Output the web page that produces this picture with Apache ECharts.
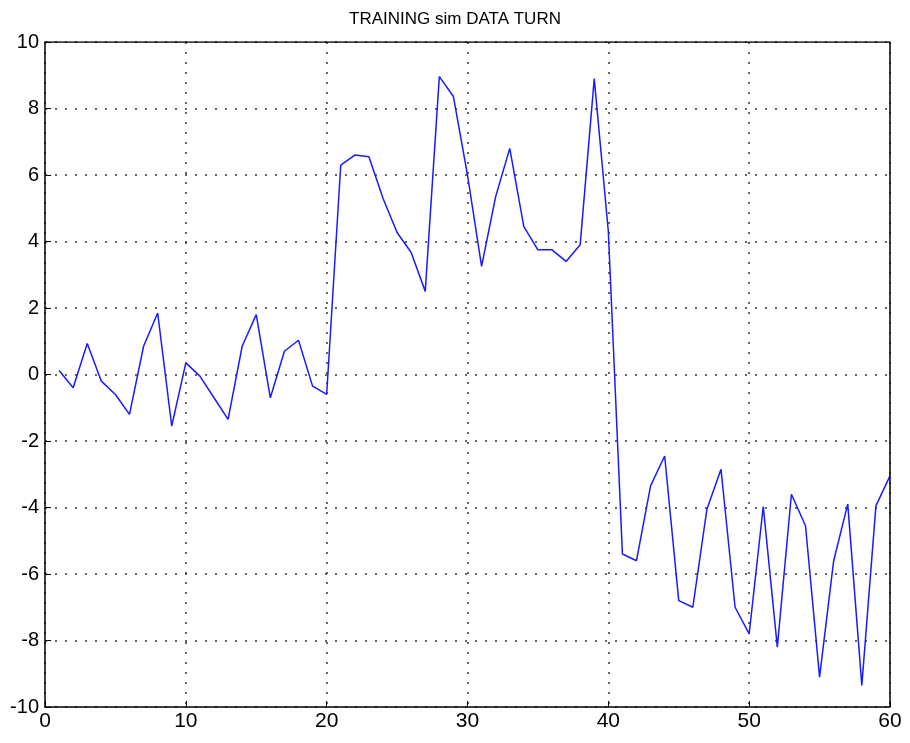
<!DOCTYPE html>
<html>
<head>
<meta charset="utf-8">
<script src="https://cdn.jsdelivr.net/npm/echarts@6/dist/echarts.min.js"></script>
<style>html,body{margin:0;padding:0;background:#fff}#chart{width:910px;height:743px}</style>
</head>
<body>
<div id="chart"></div>
<script>
var xs = [];
for (var i = 1; i <= 60; i++) xs.push(i);
var values = [
  0.12, -0.4, 0.93, -0.2, -0.6, -1.2, 0.85, 1.85, -1.55, 0.35,
  -0.05, -0.7, -1.35, 0.85, 1.8, -0.7, 0.7, 1.03, -0.35, -0.6,
  6.3, 6.6, 6.55, 5.3, 4.27, 3.67, 2.5, 8.96, 8.36, 6.0,
  3.25, 5.35, 6.8, 4.45, 3.75, 3.75, 3.4, 3.9, 8.9, 4.3,
  -5.4, -5.6, -3.35, -2.45, -6.8, -7.0, -4.05, -2.85, -7.0, -7.8,
  -3.97, -8.2, -3.6, -4.55, -9.1, -5.6, -3.9, -9.35, -3.95, -3.05
];
var titleText = 'TRAINING sim DATA TURN';

var chart = echarts.init(document.getElementById('chart'));
var gridLine = { show: true, lineStyle: { color: '#333', type: [2, 8], width: 1.5 } };
var option = {
  animation: false,
  title: {
    text: titleText, left: 'center', top: 6,
    textStyle: { fontFamily: 'Liberation Sans', fontWeight: 'normal', fontSize: 17, color: '#000' }
  },
  grid: { left: 45, right: 20, top: 42, bottom: 36 },
  xAxis: {
    type: 'value', min: 0, max: 60, interval: 10,
    axisLine: { onZero: false, lineStyle: { color: '#000', width: 1.5 } },
    axisTick: { inside: true, length: 6, lineStyle: { color: '#000' } },
    axisLabel: { fontFamily: 'Liberation Sans', fontSize: 21, color: '#000', margin: 4 },
    splitLine: gridLine
  },
  yAxis: {
    type: 'value', min: -10, max: 10, interval: 2,
    axisLine: { show: true, onZero: false, lineStyle: { color: '#000', width: 1.5 } },
    axisTick: { show: true, inside: true, length: 6, lineStyle: { color: '#000' } },
    axisLabel: { fontFamily: 'Liberation Sans', fontSize: 20, color: '#000', margin: 6 },
    splitLine: gridLine
  },
  series: [
    {
      type: 'line', showSymbol: false,
      data: xs.map(function (x, i) { return [x, values[i]]; }),
      lineStyle: { color: '#1a1aff', width: 1.5 }
    },
    // box on the top/right edges
    {
      type: 'line', showSymbol: false, silent: true,
      data: [[0, 10], [60, 10], [60, -10]],
      lineStyle: { color: '#000', width: 1.5 }
    }
  ]
};
chart.setOption(option);
</script>
</body>
</html>
